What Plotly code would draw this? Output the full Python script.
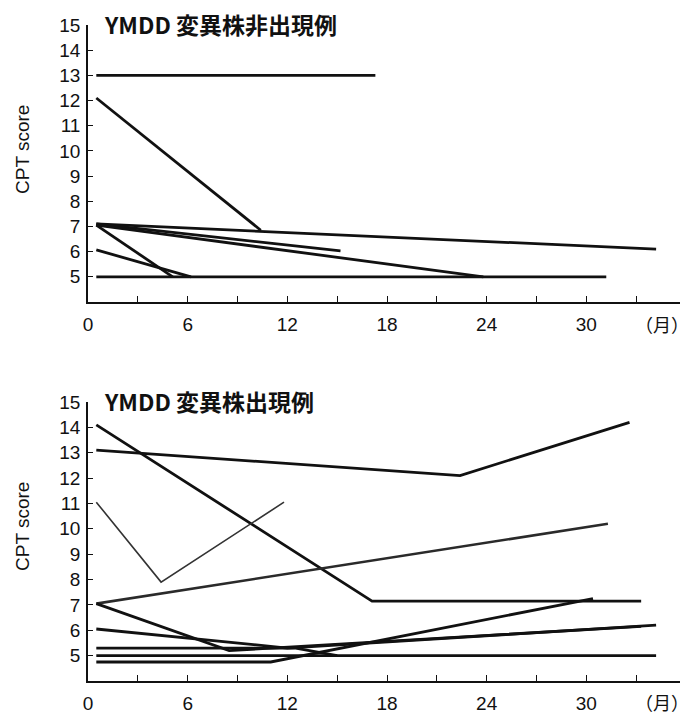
import plotly.graph_objects as go

# ---------------- data ----------------
# Top panel: YMDD 変異株非出現例 (months, CPT score)
top_months = [
    [0.5, 17.3],
    [0.5, 10.4],
    [0.5, 34.2],
    [0.5, 15.2],
    [0.5, 23.8],
    [0.5, 5.1],
    [0.5, 6.2],
    [0.5, 31.2],
]
top_scores = [
    [13.0, 13.0],
    [12.1, 6.85],
    [7.1, 6.1],
    [7.1, 6.03],
    [7.05, 5.0],
    [7.05, 5.0],
    [6.07, 5.0],
    [5.0, 5.0],
]

# Bottom panel: YMDD 変異株出現例
bot_months = [
    [0.5, 17.1, 33.3],
    [0.5, 22.4, 32.6],
    [0.5, 4.4, 11.8],
    [0.5, 31.3],
    [0.5, 8.5, 33.3],
    [0.5, 12.0, 34.2],
    [0.5, 12.5, 15.0],
    [0.5, 34.2],
    [0.5, 11.0, 30.4],
]
bot_scores = [
    [14.1, 7.15, 7.15],
    [13.1, 12.1, 14.2],
    [11.05, 7.9, 11.05],
    [7.05, 10.2],
    [7.05, 5.2, 6.15],
    [6.05, 5.3, 6.2],
    [5.3, 5.3, 5.0],
    [5.0, 5.0],
    [4.75, 4.75, 7.25],
]
bot_widths = [2.8, 2.8, 1.6, 2.6, 2.8, 2.8, 2.8, 2.8, 2.8]
bot_colors = ["#111", "#111", "#333", "#2a2a2a", "#111", "#111", "#111", "#111", "#111"]

titles = ["YMDD 変異株非出現例", "YMDD 変異株出現例"]
x_tick_vals = list(range(0, 37, 3))
x_tick_text = ["0", "", "6", "", "12", "", "18", "", "24", "", "30", "", ""]
y_tick_vals = list(range(5, 16))
y_label = "CPT score"
x_unit = "（月）"

# ---------------- figure ----------------
OFF = 8  # page body margin offset
W, H = 688 - OFF, 717 - OFF
fig = go.Figure()

for xs, ys in zip(top_months, top_scores):
    fig.add_trace(go.Scatter(x=xs, y=ys, mode="lines", xaxis="x", yaxis="y",
                             line=dict(color="#111", width=2.8),
                             hoverinfo="skip", showlegend=False))
for xs, ys, w, c in zip(bot_months, bot_scores, bot_widths, bot_colors):
    fig.add_trace(go.Scatter(x=xs, y=ys, mode="lines", xaxis="x2", yaxis="y2",
                             line=dict(color=c, width=w),
                             hoverinfo="skip", showlegend=False))

num_font = dict(family="Liberation Sans, Arial, sans-serif", size=19, color="#111")

def px_x(p):
    return (p - OFF) / W

def px_y(p):
    return 1 - (p - OFF) / H

xdom = [px_x(88), px_x(686)]

xa = dict(domain=xdom, range=[0, 36], tickvals=x_tick_vals, ticktext=x_tick_text,
          ticks="inside", ticklen=6, tickwidth=1.3, tickcolor="#111",
          showline=True, linecolor="#111", linewidth=1.5, showgrid=False,
          zeroline=False, tickfont=num_font, ticklabelstandoff=4, fixedrange=True,
          automargin=False)
ya = dict(range=[4, 15], tickvals=y_tick_vals, ticks="inside", ticklen=5,
          tickwidth=1.3, tickcolor="#111", showline=True, linecolor="#111",
          linewidth=1.5, showgrid=False, zeroline=False, tickfont=num_font,
          ticklabelstandoff=2, fixedrange=True, automargin=False)

fig.update_layout(
    template="none",
    width=W, height=H,
    margin=dict(l=0, r=0, t=0, b=0, autoexpand=False),
    paper_bgcolor="white", plot_bgcolor="white",
    xaxis=dict(xa, anchor="y"),
    yaxis=dict(ya, domain=[px_y(302), px_y(25)], anchor="x"),
    xaxis2=dict(xa, anchor="y2"),
    yaxis2=dict(ya, domain=[px_y(681), px_y(402)], anchor="x2"),
)

annots = []
for title, ty, ly, uy in [(titles[0], 24, 150, 324), (titles[1], 401, 527, 702)]:
    annots.append(dict(text="<b>" + title + "</b>", xref="paper", yref="paper",
                       x=px_x(102), y=px_y(ty), xanchor="left", yanchor="middle",
                       showarrow=False,
                       font=dict(family="Noto Sans CJK JP, sans-serif", size=23, color="#111")))
    annots.append(dict(text=y_label, xref="paper", yref="paper", x=px_x(22), y=px_y(ly),
                       xanchor="center", yanchor="middle", textangle=-90, showarrow=False,
                       font=dict(family="Liberation Sans, Arial, sans-serif", size=19, color="#111")))
    annots.append(dict(text=x_unit, xref="paper", yref="paper", x=px_x(662), y=px_y(uy),
                       xanchor="center", yanchor="middle", showarrow=False,
                       font=dict(family="Noto Sans CJK JP, sans-serif", size=18, color="#111")))
fig.update_layout(annotations=annots)

fig.write_html("out.html")
